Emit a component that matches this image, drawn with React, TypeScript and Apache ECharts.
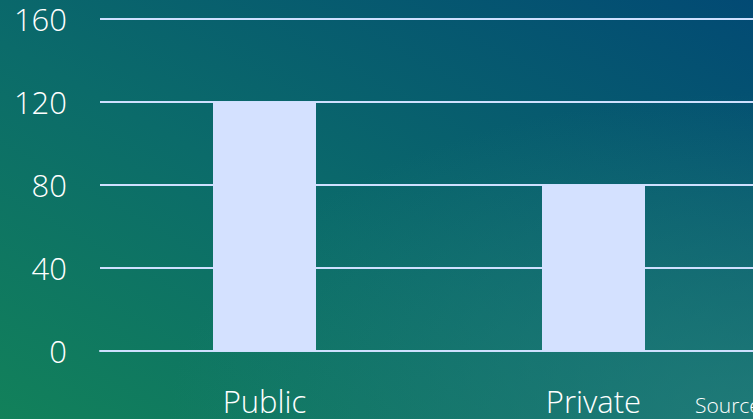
import React, { useEffect, useRef } from "react";
import * as echarts from "echarts";

const categories = ["Public", "Private"];
const values = [120, 80];
const yTicks = [0, 40, 80, 120, 160];
const sourceText = "Source";

export default function App() {
  const ref = useRef<HTMLDivElement>(null);
  useEffect(() => {
    if (!ref.current) return;
    const chart = echarts.init(ref.current, null, { renderer: "svg" });
    const font = "'Open Sans', 'Segoe UI', sans-serif";
    chart.setOption({
      animation: false,
      backgroundColor: "transparent",
      grid: { left: 100, top: 19, width: 658, height: 332, containLabel: false },
      xAxis: {
        type: "category",
        data: categories,
        axisLine: { show: true, lineStyle: { color: "#cfe0ff", width: 2 } },
        axisTick: { show: false },
        axisLabel: {
          color: "#ffffff",
          fontSize: 31,
          fontFamily: font,
          fontWeight: 300,
          margin: 34,
        },
      },
      yAxis: {
        type: "value",
        min: yTicks[0],
        max: yTicks[yTicks.length - 1],
        interval: 40,
        axisLine: { show: false },
        axisTick: { show: false },
        splitLine: { lineStyle: { color: "#cfe0ff", width: 2 } },
        axisLabel: {
          color: "#ffffff",
          fontSize: 31,
          fontFamily: font,
          fontWeight: 300,
          margin: 33,
        },
      },
      series: [
        {
          type: "bar",
          data: values,
          barWidth: 103,
          itemStyle: { color: "#d4e1ff" },
        },
      ],
      graphic: [
        {
          type: "text",
          left: 695,
          top: 394,
          style: {
            text: sourceText,
            fill: "#ffffff",
            font: `300 21px ${font}`,
          },
        },
      ],
    });
    return () => chart.dispose();
  }, []);
  return (
    <div
      style={{
        position: "fixed",
        left: 0,
        top: 0,
        width: 753,
        height: 419,
        overflow: "hidden",
        background:
          "radial-gradient(ellipse at 100% 100%, rgba(40,130,125,0.7) 0%, rgba(40,130,125,0) 55%), linear-gradient(to top right, #12815a 0%, #0b6b6a 45%, #024a74 100%)",
      }}
    >
      <div ref={ref} style={{ width: 770, height: 419 }} />
    </div>
  );
}
